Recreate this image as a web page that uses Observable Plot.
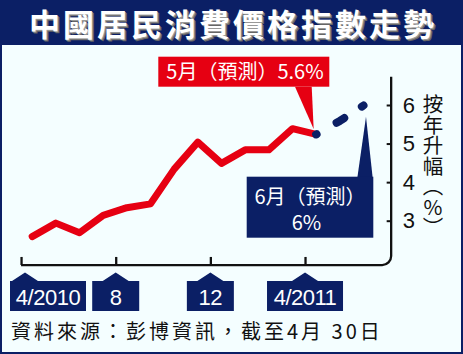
<!DOCTYPE html>
<html><head><meta charset="utf-8">
<script src="https://cdn.jsdelivr.net/npm/d3@7"></script>
<script src="https://cdn.jsdelivr.net/npm/@observablehq/plot@0.6"></script>
<style>
body{margin:0;background:#fff;}
#wrap{position:relative;width:463px;height:354px;background:#f4feff;overflow:hidden;font-family:"Noto Sans CJK TC","Noto Sans CJK SC",sans-serif;}
#title{position:absolute;left:0;top:0;width:463px;height:45px;background:#0b1f65;color:#fff;font-weight:700;font-size:31px;letter-spacing:3px;padding-left:3px;box-sizing:border-box;text-align:center;line-height:46px;text-shadow:1px 1px 0 #999,2px 2px 0 #666;}
#chart{position:absolute;left:0;top:45px;}
#caption{position:absolute;left:11px;top:318px;font-size:20px;letter-spacing:3px;color:#111;line-height:26px;white-space:nowrap;}
#border{position:absolute;left:0;top:0;width:463px;height:354px;box-sizing:border-box;border:2px solid #0b1f65;pointer-events:none;}
g[aria-label="shadow"]{filter:blur(1.5px);}
</style></head>
<body>
<div id="wrap">
  <div id="title">中國居民消費價格指數走勢</div>
  <div id="chart"></div>
  <div id="caption">資料來源：彭博資訊，截至4月 30日</div>
  <div id="border"></div>
</div>
<script>
// ---- data ----
const months = ["4/2010","5/2010","6/2010","7/2010","8/2010","9/2010","10/2010","11/2010","12/2010","1/2011","2/2011","3/2011","4/2011","5/2011","6/2011"];
const actualMonths = ["4/2010","5/2010","6/2010","7/2010","8/2010","9/2010","10/2010","11/2010","12/2010","1/2011","2/2011","3/2011","4/2011"];
const actualValues = [2.6, 2.95, 2.7, 3.15, 3.35, 3.45, 4.35, 5.05, 4.5, 4.85, 4.85, 5.4, 5.25];
const forecastMonths = ["4/2011","5/2011","6/2011"];
const forecastValues = [5.25, 5.6, 6.0];
const xTickMonths = ["4/2010","8/2010","12/2010","4/2011"];
const xTickLabels = ["4/2010","8","12","4/2011"];
const yTicks = [3, 4, 5, 6];
const yTitle = "按年升幅（%）";
const mayNote = "5月（預測）5.6%";
const junNote1 = "6月（預測）";
const junNote2 = "6%";

const RED = "#e60012", NAVY = "#0b1f65", INK = "#111";
const idx = m => months.indexOf(m);
const actual = actualMonths.map((m, i) => ({x: idx(m), y: actualValues[i]}));
const forecast = forecastMonths.map((m, i) => ({x: idx(m), y: forecastValues[i]}));
const ticks = xTickMonths.map((m, i) => ({x: idx(m) - 0.45, label: xTickLabels[i]}));

// decorative frame, label tabs, callouts and vertical axis title, positioned with the plot's scales
function decor(index, scales) {
  const sx = scales.x, sy = scales.y;
  const g = d3.create("svg:g");
  const xl = sx(-0.45), xr = sx(15.19), yb = sy(1.85), yt = sy(6.73), r = 9;
  g.append("path")
    .attr("d", `M${xl},${yb}H${xr - r}A${r},${r} 0 0 0 ${xr},${yb - r}V${yt}`)
    .attr("fill", "none").attr("stroke", INK).attr("stroke-width", 2.3);
  const top = sy(1.85) + 16, bot = top + 30, peak = top - 8.5;
  ticks.forEach(t => {
    const cx = sx(t.x);
    const w = t.label.length > 2 ? 76 : 47;
    const left = Math.max(10, cx - w / 2), right = left + w;
    const px = Math.max(cx, left + 15);
    g.append("path")
      .attr("d", `M${left},${bot}V${top}H${px - 13}L${px},${peak}L${px + 13},${top}H${right}V${bot}Z`)
      .attr("fill", NAVY);
    g.append("text")
      .attr("x", (left + right) / 2).attr("y", (top + bot) / 2 + 1)
      .attr("text-anchor", "middle").attr("dy", "0.36em")
      .attr("font-family", "Liberation Sans, Arial, sans-serif")
      .attr("font-size", 22).attr("letter-spacing", -0.5)
      .attr("fill", "#fff").text(t.label);
  });
  // vertical axis title
  g.append("text")
    .attr("x", sx(16.96)).attr("y", sy(4.42))
    .attr("writing-mode", "vertical-rl")
    .attr("style", "writing-mode:vertical-rl;text-orientation:upright;")
    .attr("text-anchor", "middle")
    .attr("font-family", "Noto Sans CJK TC, sans-serif")
    .attr("font-size", 20.5).attr("fill", INK).text(yTitle);
  const a = actual[actual.length - 1];
  const tip1 = [sx(a.x) - 2, sy(a.y) - 5];
  g.append("path").attr("d", `M295,41.7L${tip1[0]},${tip1[1]}L311.7,41.7Z`).attr("fill", RED);
  g.append("rect").attr("x", 158.3).attr("y", 11.7).attr("width", 171).attr("height", 30).attr("fill", RED);
  g.append("text").attr("x", 245).attr("y", 26.7).attr("dy", "0.36em")
    .attr("text-anchor", "middle").attr("font-size", 20).attr("fill", "#fff")
    .attr("font-family", "Noto Sans CJK TC, sans-serif").text(mayNote);
  const f = forecast[forecast.length - 1];
  const tip2 = [sx(f.x) + 3, sy(f.y) + 11.7];
  g.append("path").attr("d", `M357.3,133L${tip2[0]},${tip2[1]}L372.7,133Z`).attr("fill", NAVY);
  g.append("rect").attr("x", 246.7).attr("y", 131.7).attr("width", 126.6).attr("height", 61).attr("fill", NAVY);
  g.append("text").attr("x", 310).attr("y", 151.7).attr("dy", "0.36em")
    .attr("text-anchor", "middle").attr("font-size", 20).attr("fill", "#fff")
    .attr("font-family", "Noto Sans CJK TC, sans-serif").text(junNote1);
  g.append("text").attr("x", 306.5).attr("y", 178).attr("dy", "0.36em")
    .attr("text-anchor", "middle").attr("font-size", 20).attr("fill", "#fff")
    .attr("font-family", "Noto Sans CJK TC, sans-serif").text(junNote2);
  return g.node();
}

const dash = "0.5,23,9,21,5";
const chart = Plot.plot({
  width: 463, height: 273, margin: 0,
  style: {background: "transparent", overflow: "visible"},
  x: {domain: [0, 14], range: [31.7, 363], axis: null},
  y: {domain: [3, 6], range: [175.7, 60], axis: null},
  marks: [
    decor,
    Plot.ruleX(ticks, {x: "x", y1: 1.85, y2: 2.06, stroke: INK, strokeWidth: 2.3}),
    Plot.ruleY(yTicks, {y: d => d, x1: 15.0, x2: 15.19, stroke: INK, strokeWidth: 2}),
    Plot.text(yTicks, {y: d => d, x: 15.92, text: d => String(d), fontSize: 22, fontFamily: "Liberation Sans, Arial, sans-serif", fill: INK}),
    Plot.line(actual, {x: "x", y: "y", stroke: "#777", strokeOpacity: 0.55, strokeWidth: 7, dx: 3, dy: 5, strokeLinejoin: "round", strokeLinecap: "round", ariaLabel: "shadow"}),
    Plot.line(forecast, {x: "x", y: "y", stroke: "#777", strokeOpacity: 0.55, strokeWidth: 8, dx: 3, dy: 5, strokeLinecap: "round", strokeDasharray: dash, ariaLabel: "shadow"}),
    Plot.line(actual, {x: "x", y: "y", stroke: RED, strokeWidth: 7, strokeLinejoin: "round", strokeLinecap: "round"}),
    Plot.line(forecast, {x: "x", y: "y", stroke: NAVY, strokeWidth: 8, strokeLinecap: "round", strokeDasharray: dash})
  ]
});
document.getElementById("chart").appendChild(chart);
</script>
</body></html>
